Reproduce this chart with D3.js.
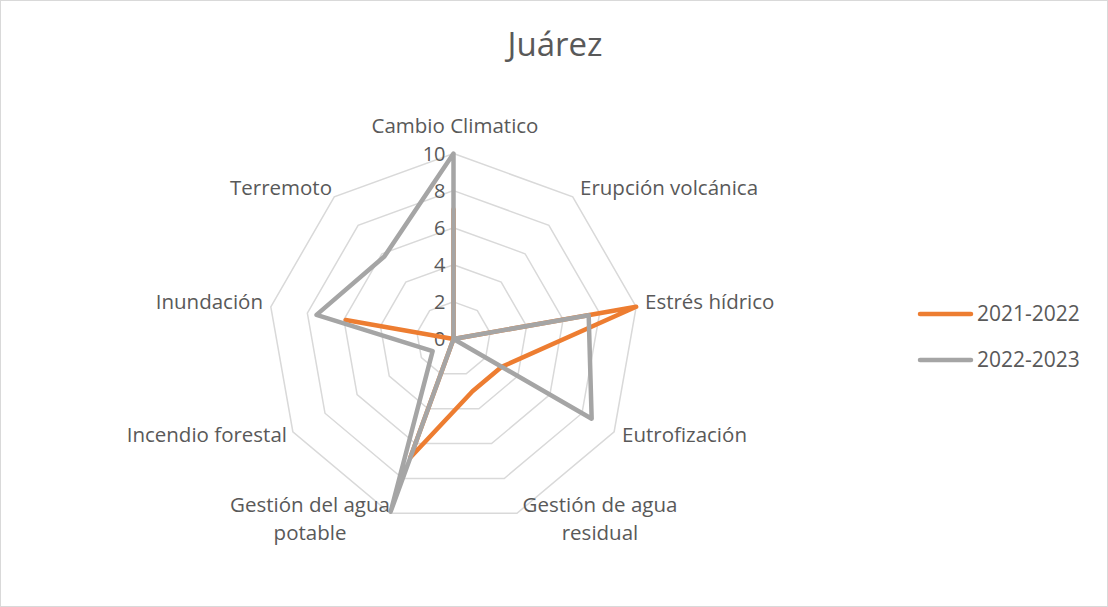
<!DOCTYPE html>
<html><head><meta charset="utf-8">
<script src="https://cdn.jsdelivr.net/npm/d3@7"></script>
<style>body{margin:0;background:#fff}svg{display:block}text{font-family:"Open Sans",Lato,sans-serif;fill:#595959}</style>
</head><body><svg id="c" width="1108" height="607"></svg>
<script>
const categories = ["Cambio Climatico","Erupción volcánica","Estrés hídrico","Eutrofización","Gestión de agua residual","Gestión del agua potable","Incendio forestal","Inundación","Terremoto"];
const series2021 = [7,0,10,3,3,6.8,0,5.9,0];
const series2022 = [10,0,7.4,8.6,0,9.9,1.3,7.5,5.8];
const seriesNames = ["2021-2022","2022-2023"];
const ticks = [0,2,4,6,8,10];
const colors = ["#ED7D31","#A5A5A5"];

const svg = d3.select("#c");
svg.append("rect").attr("x",0.5).attr("y",0.5).attr("width",1107).attr("height",606).attr("fill","#fff").attr("stroke","#d9d9d9");
svg.append("text").attr("x",555).attr("y",56).attr("text-anchor","middle").style("font-size","33px").text("Juárez");

const cx=453.5, cy=339, R=185.5;
const r = d3.scaleLinear().domain([0,10]).range([0,R]);
const ang = d3.scalePoint().domain(categories).range([0, 2*Math.PI*(categories.length-1)/categories.length]);
const pt = (c,v)=>[cx+r(v)*Math.sin(ang(c)), cy-r(v)*Math.cos(ang(c))];

const g = svg.append("g");
ticks.filter(t=>t>0).forEach(t=>{
  g.append("polygon").attr("points",categories.map(c=>pt(c,t).join(",")).join(" "))
   .attr("fill","none").attr("stroke","#d9d9d9").attr("stroke-width",1.5);
});
ticks.forEach(t=>{
  g.append("text").attr("x",cx-8).attr("y",cy-r(t)+7).attr("text-anchor","end").style("font-size","20px").text(t);
});

const line = d3.line().curve(d3.curveLinearClosed);
[series2021,series2022].forEach((s,i)=>{
  g.append("path").attr("d",line(categories.map((c,j)=>pt(c,s[j])))).attr("fill","none")
   .attr("stroke",colors[i]).attr("stroke-width",4.5).attr("stroke-linejoin","round");
});

const labelPos = {
  "Cambio Climatico":{x:455,y:133,a:"middle"},
  "Erupción volcánica":{x:580,y:195,a:"start"},
  "Estrés hídrico":{x:645,y:309,a:"start"},
  "Eutrofización":{x:622,y:442,a:"start"},
  "Gestión de agua residual":{x:600,y:512,a:"middle",lines:["Gestión de agua","residual"]},
  "Gestión del agua potable":{x:310,y:512,a:"middle",lines:["Gestión del agua","potable"]},
  "Incendio forestal":{x:287,y:442,a:"end"},
  "Inundación":{x:263,y:309,a:"end"},
  "Terremoto":{x:332,y:195,a:"end"}
};
categories.forEach(c=>{
  const p = labelPos[c];
  const t = g.append("text").attr("x",p.x).attr("y",p.y).attr("text-anchor",p.a).style("font-size","20.5px");
  (p.lines||[c]).forEach((l,k)=>t.append("tspan").attr("x",p.x).attr("dy",k?28:0).text(l));
});

const lg = svg.append("g");
seriesNames.forEach((n,i)=>{
  const y = 314+i*46;
  lg.append("line").attr("x1",920).attr("x2",971).attr("y1",y).attr("y2",y).attr("stroke",colors[i]).attr("stroke-width",4.5).attr("stroke-linecap","round");
  lg.append("text").attr("x",977).attr("y",y+7).style("font-size","21px").text(n);
});
</script></body></html>
